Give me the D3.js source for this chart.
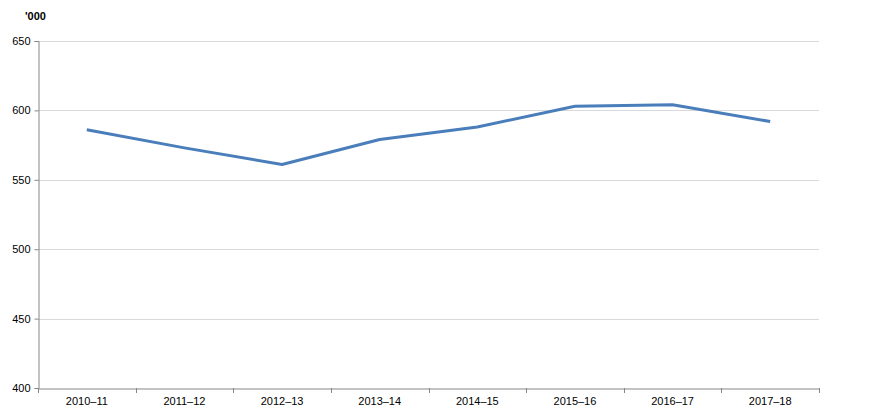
<!DOCTYPE html>
<html><head><meta charset="utf-8">
<script src="https://cdn.jsdelivr.net/npm/d3@7"></script>
<style>body{margin:0;background:#fff;}svg{display:block;font-family:"Liberation Sans",Arial,sans-serif;}</style>
</head><body>
<svg id="c" width="869" height="416"></svg>
<script>
const categories = ["2010–11","2011–12","2012–13","2013–14","2014–15","2015–16","2016–17","2017–18"];
const values = [586, 573, 561, 579, 588, 603, 604, 592];
const yTicks = [400, 450, 500, 550, 600, 650];
const unitLabel = "'000";

(function(){
const svg = d3.select("#c");
const mL = 38, mR = 819, mT = 41, mB = 388;
const x = d3.scaleBand().domain(categories).range([mL, mR]);
const y = d3.scaleLinear().domain([400, 650]).range([mB, mT]);

// gridlines
svg.append("g").selectAll("line").data(yTicks.filter(t => t !== 400)).join("line")
  .attr("x1", mL).attr("x2", mR)
  .attr("y1", d => Math.round(y(d)) + 0.5).attr("y2", d => Math.round(y(d)) + 0.5)
  .attr("stroke", "#d9d9d9").attr("stroke-width", 1);

// y axis
const yAxis = svg.append("g").attr("transform", `translate(${mL + 0.5},0)`)
  .call(d3.axisLeft(y).tickValues(yTicks).tickSize(4).tickPadding(4));
yAxis.select(".domain").attr("stroke", "#868686");
yAxis.selectAll(".tick line").attr("stroke", "#868686");
yAxis.selectAll(".tick text").attr("font-size", 11).attr("fill", "#000").attr("font-family", "Liberation Sans, Arial, sans-serif");

// x axis
const xAxis = svg.append("g").attr("transform", `translate(0,${mB + 0.5})`)
  .call(d3.axisBottom(x).tickSize(0).tickPadding(9));
xAxis.select(".domain").attr("stroke", "#868686");
xAxis.selectAll(".tick text").attr("font-size", 11).attr("fill", "#000").attr("font-family", "Liberation Sans, Arial, sans-serif");
const bounds = categories.map(c => x(c)).concat([x(categories[categories.length-1]) + x.bandwidth()]);
svg.append("g").selectAll("line").data(bounds).join("line")
  .attr("x1", d => Math.round(d) + 0.5).attr("x2", d => Math.round(d) + 0.5)
  .attr("y1", mB).attr("y2", mB + 5)
  .attr("stroke", "#868686");

// line
const line = d3.line().x((d, i) => x(categories[i]) + x.bandwidth() / 2).y(d => y(d));
svg.append("path").datum(values).attr("d", line)
  .attr("fill", "none").attr("stroke", "#4a7ebb").attr("stroke-width", 3)
  .attr("stroke-linejoin", "round");

// unit label
svg.append("text").attr("x", 25).attr("y", 20).text(unitLabel)
  .attr("font-size", 11).attr("font-weight", "bold").attr("fill", "#000");
})();
</script>
</body></html>
